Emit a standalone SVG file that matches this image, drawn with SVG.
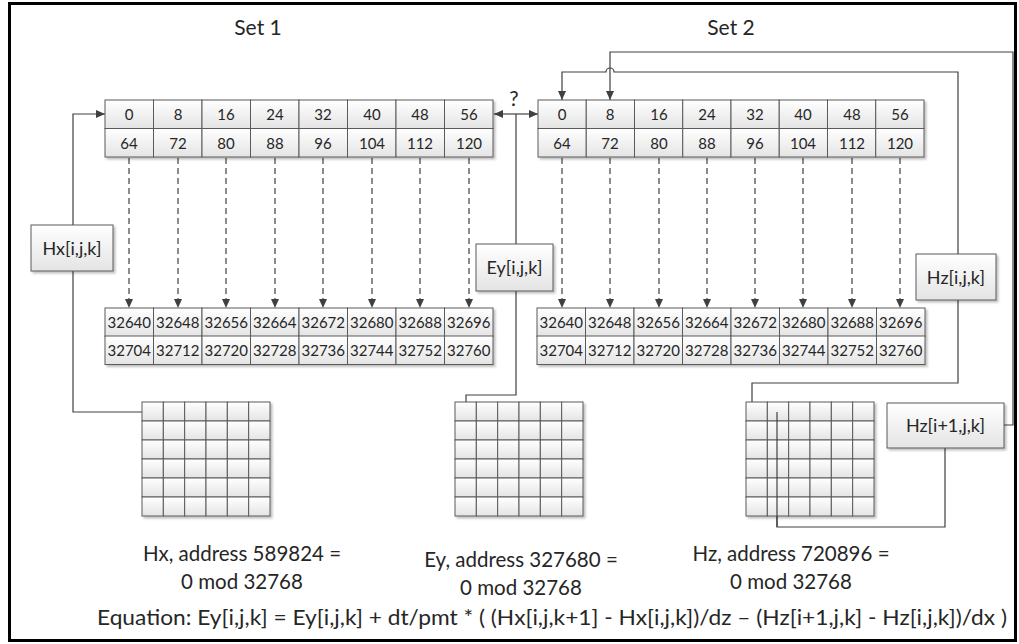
<svg xmlns="http://www.w3.org/2000/svg" xmlns:xlink="http://www.w3.org/1999/xlink" width="1019" height="644" viewBox="0 0 1019 644">
<style>
text{font-family:Lato,"Liberation Sans",sans-serif;fill:#262626}
.c{fill:url(#cg);stroke:#5a5a5a;stroke-width:1}
.n{font-size:15px;text-anchor:middle}
.lb{font-size:18px;text-anchor:middle}
.ttl{font-size:21px;text-anchor:middle}
.cap{font-size:20.5px;text-anchor:middle}
.ln{fill:none;stroke:#404040;stroke-width:1.2}
.ds{fill:none;stroke:#404040;stroke-width:1.2;stroke-dasharray:6 4}
</style>
<defs>
<linearGradient id="cg" x1="0" y1="0" x2="0" y2="1"><stop offset="0" stop-color="#ffffff"/><stop offset="1" stop-color="#e4e4e4"/></linearGradient>
<filter id="sh" x="-10%" y="-10%" width="130%" height="140%"><feDropShadow dx="2" dy="2" stdDeviation="1.2" flood-color="#000" flood-opacity="0.25"/></filter>
<marker id="ah" markerUnits="userSpaceOnUse" markerWidth="9" markerHeight="8" refX="9" refY="4" orient="auto"><path d="M0,0 L9,4 L0,8 z" fill="#404040"/></marker>
<g id="grid6">
<rect class="c" x="0" y="0" width="21.33" height="19"/><rect class="c" x="21.33" y="0" width="21.33" height="19"/><rect class="c" x="42.67" y="0" width="21.33" height="19"/><rect class="c" x="64" y="0" width="21.33" height="19"/><rect class="c" x="85.33" y="0" width="21.33" height="19"/><rect class="c" x="106.67" y="0" width="21.33" height="19"/>
<rect class="c" x="0" y="19" width="21.33" height="19"/><rect class="c" x="21.33" y="19" width="21.33" height="19"/><rect class="c" x="42.67" y="19" width="21.33" height="19"/><rect class="c" x="64" y="19" width="21.33" height="19"/><rect class="c" x="85.33" y="19" width="21.33" height="19"/><rect class="c" x="106.67" y="19" width="21.33" height="19"/>
<rect class="c" x="0" y="38" width="21.33" height="19"/><rect class="c" x="21.33" y="38" width="21.33" height="19"/><rect class="c" x="42.67" y="38" width="21.33" height="19"/><rect class="c" x="64" y="38" width="21.33" height="19"/><rect class="c" x="85.33" y="38" width="21.33" height="19"/><rect class="c" x="106.67" y="38" width="21.33" height="19"/>
<rect class="c" x="0" y="57" width="21.33" height="19"/><rect class="c" x="21.33" y="57" width="21.33" height="19"/><rect class="c" x="42.67" y="57" width="21.33" height="19"/><rect class="c" x="64" y="57" width="21.33" height="19"/><rect class="c" x="85.33" y="57" width="21.33" height="19"/><rect class="c" x="106.67" y="57" width="21.33" height="19"/>
<rect class="c" x="0" y="76" width="21.33" height="19"/><rect class="c" x="21.33" y="76" width="21.33" height="19"/><rect class="c" x="42.67" y="76" width="21.33" height="19"/><rect class="c" x="64" y="76" width="21.33" height="19"/><rect class="c" x="85.33" y="76" width="21.33" height="19"/><rect class="c" x="106.67" y="76" width="21.33" height="19"/>
<rect class="c" x="0" y="95" width="21.33" height="19"/><rect class="c" x="21.33" y="95" width="21.33" height="19"/><rect class="c" x="42.67" y="95" width="21.33" height="19"/><rect class="c" x="64" y="95" width="21.33" height="19"/><rect class="c" x="85.33" y="95" width="21.33" height="19"/><rect class="c" x="106.67" y="95" width="21.33" height="19"/>
</g>
<g id="row8">
<rect class="c" x="0" y="0" width="48.5" height="28.5"/><rect class="c" x="48.5" y="0" width="48.5" height="28.5"/><rect class="c" x="97" y="0" width="48.5" height="28.5"/><rect class="c" x="145.5" y="0" width="48.5" height="28.5"/><rect class="c" x="194" y="0" width="48.5" height="28.5"/><rect class="c" x="242.5" y="0" width="48.5" height="28.5"/><rect class="c" x="291" y="0" width="48.5" height="28.5"/><rect class="c" x="339.5" y="0" width="48.5" height="28.5"/>
</g>
</defs>
<rect x="0" y="0" width="1019" height="644" fill="#fff"/>
<rect x="9.5" y="3.5" width="1006" height="637" fill="none" stroke="#000" stroke-width="3"/>

<text class="ttl" x="258" y="35">Set 1</text>
<text class="ttl" x="731" y="35">Set 2</text>
<text class="ttl" x="514" y="106">?</text>

<g id="connectors">
<g marker-end="url(#ah)" class="ds">
<path d="M129,158V308"/><path d="M178,158V308"/><path d="M226,158V308"/><path d="M275,158V308"/><path d="M323,158V308"/><path d="M372,158V308"/><path d="M420,158V308"/><path d="M469,158V308"/>
<path d="M562,158V308"/><path d="M610,158V308"/><path d="M659,158V308"/><path d="M707,158V308"/><path d="M755,158V308"/><path d="M803,158V308"/><path d="M852,158V308"/><path d="M900,158V308"/>
</g>
<path class="ln" d="M153,412H73V114H105" marker-end="url(#ah)"/>
<path class="ln" d="M466,412V395H516V114"/>
<path class="ln" d="M516,114H494" marker-end="url(#ah)"/>
<path class="ln" d="M516,114H538" marker-end="url(#ah)"/>
<path class="ln" d="M756,412L752,404V383H958V72H614A4,4 0 0 0 606,72H562V100" marker-end="url(#ah)"/>
<path class="ln" d="M777,412V527H945V448"/>
<path class="ln" d="M1004,425H1013V52H610V100" marker-end="url(#ah)"/>
</g>

<g id="set1-top">
<g filter="url(#sh)">
<use xlink:href="#row8" x="105" y="100"/>
<use xlink:href="#row8" x="105" y="128.5"/>
</g>
<text class="n" x="129" y="119.5">0</text><text class="n" x="178" y="119.5">8</text><text class="n" x="226" y="119.5">16</text><text class="n" x="275" y="119.5">24</text><text class="n" x="323" y="119.5">32</text><text class="n" x="372" y="119.5">40</text><text class="n" x="420" y="119.5">48</text><text class="n" x="469" y="119.5">56</text>
<text class="n" x="129" y="148.5">64</text><text class="n" x="178" y="148.5">72</text><text class="n" x="226" y="148.5">80</text><text class="n" x="275" y="148.5">88</text><text class="n" x="323" y="148.5">96</text><text class="n" x="372" y="148.5">104</text><text class="n" x="420" y="148.5">112</text><text class="n" x="469" y="148.5">120</text>
</g>

<g id="set2-top">
<g filter="url(#sh)">
<use xlink:href="#row8" x="538" y="100" transform="translate(538 0) scale(0.9948 1) translate(-538 0)"/>
<use xlink:href="#row8" x="538" y="128.5" transform="translate(538 0) scale(0.9948 1) translate(-538 0)"/>
</g>
<text class="n" x="562" y="119.5">0</text><text class="n" x="610" y="119.5">8</text><text class="n" x="659" y="119.5">16</text><text class="n" x="707" y="119.5">24</text><text class="n" x="755" y="119.5">32</text><text class="n" x="803" y="119.5">40</text><text class="n" x="852" y="119.5">48</text><text class="n" x="900" y="119.5">56</text>
<text class="n" x="562" y="148.5">64</text><text class="n" x="610" y="148.5">72</text><text class="n" x="659" y="148.5">80</text><text class="n" x="707" y="148.5">88</text><text class="n" x="755" y="148.5">96</text><text class="n" x="803" y="148.5">104</text><text class="n" x="852" y="148.5">112</text><text class="n" x="900" y="148.5">120</text>
</g>

<g id="set1-bottom">
<g filter="url(#sh)">
<use xlink:href="#row8" x="105" y="308"/>
<use xlink:href="#row8" x="105" y="336"/>
</g>
<text class="n" x="129.25" y="327.5">32640</text><text class="n" x="177.75" y="327.5">32648</text><text class="n" x="226.25" y="327.5">32656</text><text class="n" x="274.75" y="327.5">32664</text><text class="n" x="323.25" y="327.5">32672</text><text class="n" x="371.75" y="327.5">32680</text><text class="n" x="420.25" y="327.5">32688</text><text class="n" x="468.75" y="327.5">32696</text>
<text class="n" x="129.25" y="355.5">32704</text><text class="n" x="177.75" y="355.5">32712</text><text class="n" x="226.25" y="355.5">32720</text><text class="n" x="274.75" y="355.5">32728</text><text class="n" x="323.25" y="355.5">32736</text><text class="n" x="371.75" y="355.5">32744</text><text class="n" x="420.25" y="355.5">32752</text><text class="n" x="468.75" y="355.5">32760</text>
</g>

<g id="set2-bottom">
<g filter="url(#sh)">
<use xlink:href="#row8" x="537" y="308"/>
<use xlink:href="#row8" x="537" y="336"/>
</g>
<text class="n" x="561.25" y="327.5">32640</text><text class="n" x="609.75" y="327.5">32648</text><text class="n" x="658.25" y="327.5">32656</text><text class="n" x="706.75" y="327.5">32664</text><text class="n" x="755.25" y="327.5">32672</text><text class="n" x="803.75" y="327.5">32680</text><text class="n" x="852.25" y="327.5">32688</text><text class="n" x="900.75" y="327.5">32696</text>
<text class="n" x="561.25" y="355.5">32704</text><text class="n" x="609.75" y="355.5">32712</text><text class="n" x="658.25" y="355.5">32720</text><text class="n" x="706.75" y="355.5">32728</text><text class="n" x="755.25" y="355.5">32736</text><text class="n" x="803.75" y="355.5">32744</text><text class="n" x="852.25" y="355.5">32752</text><text class="n" x="900.75" y="355.5">32760</text>
</g>

<g id="hx-grid"><use xlink:href="#grid6" x="142" y="402" filter="url(#sh)"/></g>
<g id="ey-grid"><use xlink:href="#grid6" x="455" y="402" filter="url(#sh)"/></g>
<g id="hz-grid"><use xlink:href="#grid6" x="746" y="402" filter="url(#sh)"/></g>

<g id="hz-overlay"><path class="ln" d="M777,412V527"/></g>

<g id="label-hx"><rect class="c" x="31" y="225" width="82" height="46" filter="url(#sh)"/><text class="lb" x="72" y="254.5">Hx[i,j,k]</text></g>
<g id="label-ey"><rect class="c" x="476" y="244" width="77" height="47" filter="url(#sh)"/><text class="lb" x="514.5" y="274">Ey[i,j,k]</text></g>
<g id="label-hz"><rect class="c" x="916" y="254" width="80" height="46" filter="url(#sh)"/><text class="lb" x="956" y="283.5">Hz[i,j,k]</text></g>
<g id="label-hz1"><rect class="c" x="887" y="403" width="117" height="45" filter="url(#sh)"/><text class="lb" x="945.5" y="432">Hz[i+1,j,k]</text></g>

<g id="captions">
<text class="cap" x="242" y="561">Hx, address 589824 =</text>
<text class="cap" x="242" y="589">0 mod 32768</text>
<text class="cap" x="521" y="567">Ey, address 327680 =</text>
<text class="cap" x="521" y="595">0 mod 32768</text>
<text class="cap" x="791" y="561">Hz, address 720896 =</text>
<text class="cap" x="791" y="589">0 mod 32768</text>
<text class="cap" x="552" y="625" textLength="910" lengthAdjust="spacingAndGlyphs">Equation: Ey[i,j,k] = Ey[i,j,k] + dt/pmt * ( (Hx[i,j,k+1] - Hx[i,j,k])/dz – (Hz[i+1,j,k] - Hz[i,j,k])/dx )</text>
</g>
</svg>
